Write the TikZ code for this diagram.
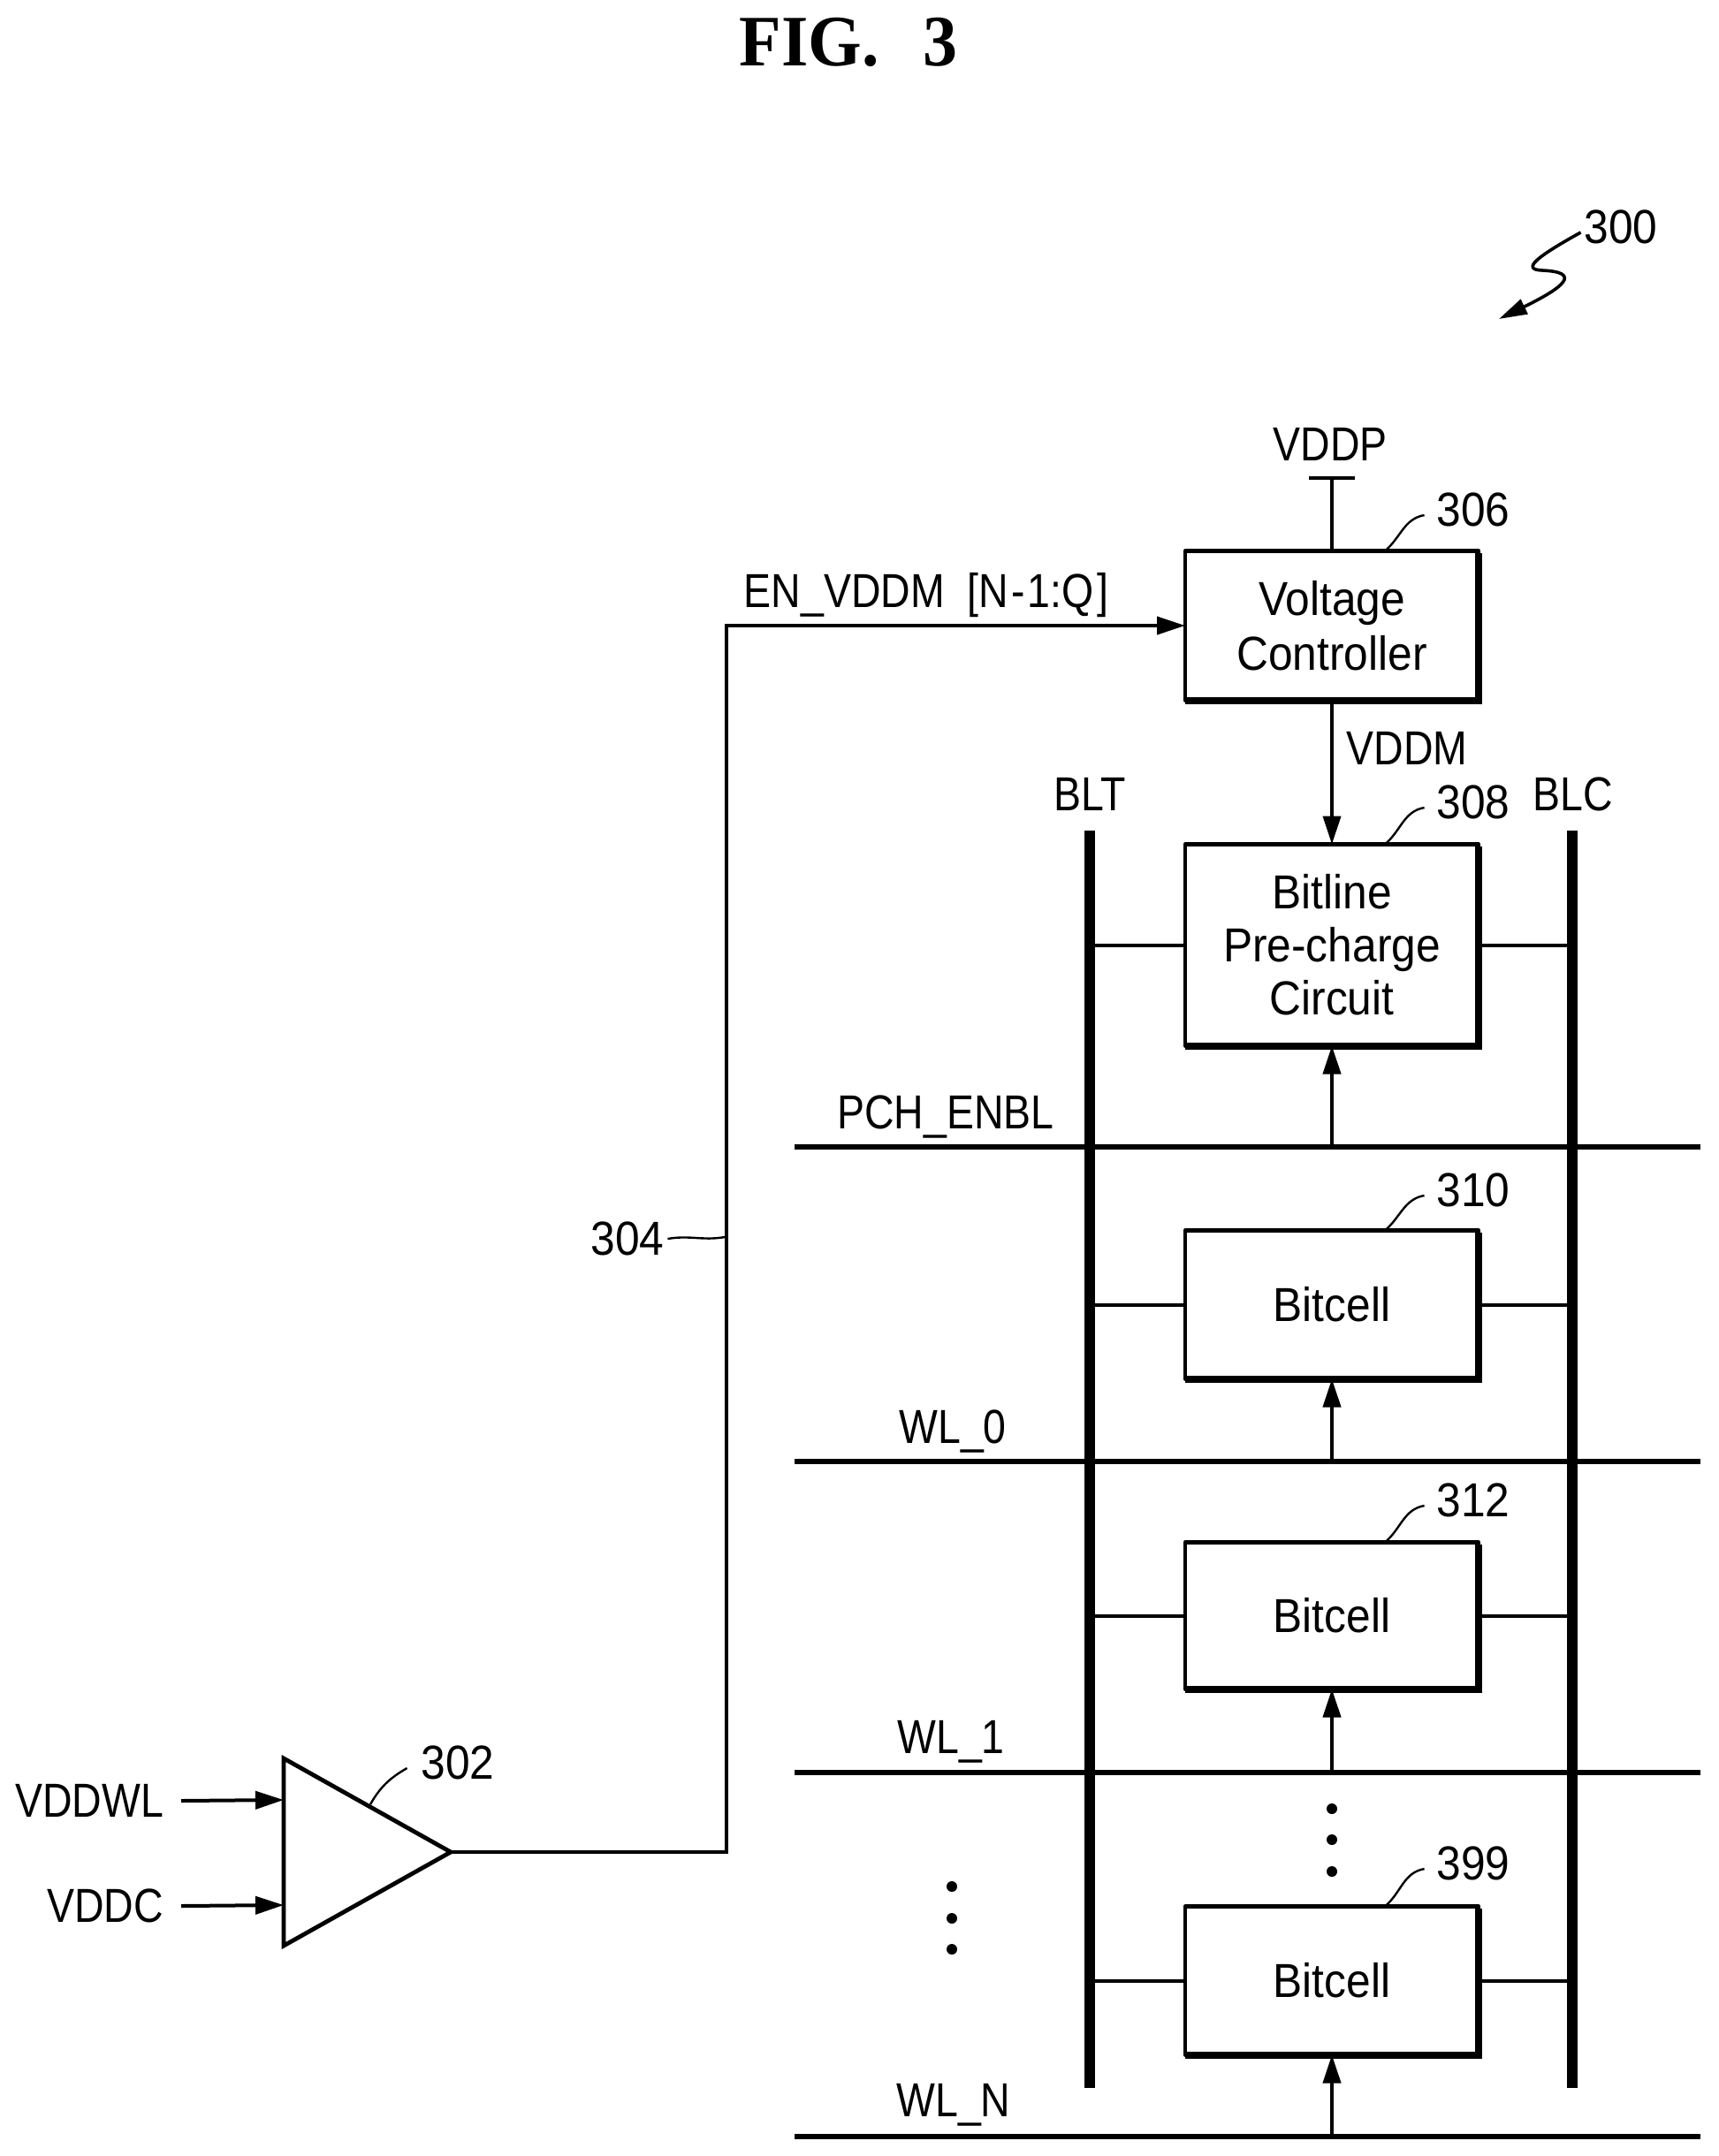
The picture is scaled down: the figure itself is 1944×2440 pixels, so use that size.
\documentclass[tikz,border=0pt]{standalone}
\usepackage{fontspec}
\setmainfont[FakeStretch=0.86]{Liberation Sans}
\newfontfamily\widefont[FakeStretch=0.92]{Liberation Sans}
\newfontfamily\figfont[FakeStretch=0.95]{Liberation Serif}
\usetikzlibrary{positioning,arrows.meta}
\newcommand{\labelfont}{\fontsize{27}{30}\selectfont}
\tikzset{
  cell/.style={draw, minimum width=166pt, align=center, line width=2.2pt,
    outer sep=0pt, inner sep=0pt, line join=round, font=\labelfont\widefont},
  heavy/.style={line width=4pt, line join=miter},
  txt/.style={inner sep=0pt, outer sep=0pt, align=center},
  num/.style={txt, font=\labelfont\widefont},
  wire/.style={line width=2pt},
  rail/.style={line width=6pt},
  word/.style={line width=2.6pt},
  tip/.style={-{Stealth[inset=0pt,length=16pt,width=10pt]}},
  leader/.style={line width=1.2pt},
  dot/.style={circle, fill, inner sep=0pt, minimum size=6pt}
}

\begin{document}
\begin{tikzpicture}[x=0.5pt, y=-0.5pt, font=\labelfont]

    \useasboundingbox (0,0) rectangle (1944,2440);

    % ============= TITLE ==================
    \node[txt] (fig) at (960,48) {\fontsize{41}{44}\selectfont\figfont\bfseries FIG.\hspace{25pt}3};

    % ============= CELLS (COLUMN) ==================

    % -------------------------------
    \node[cell, minimum height=84.5pt] (vc) at (1507,708) {Voltage\\[1pt]Controller};
    \node[cell, minimum height=114pt, below=81.5pt of vc] (pc) {Bitline\\Pre-charge\\Circuit};
    \node[cell, minimum height=84pt, below=104.5pt of pc] (bc0) {Bitcell};
    \node[cell, minimum height=83pt, below=92.5pt of bc0] (bc1) {Bitcell};
    \node[cell, minimum height=84pt, below=123pt of bc1] (bcn) {Bitcell};
    % -------------------------------

    \foreach \b in {vc,pc,bc0,bc1,bcn}
      \draw[heavy] ([yshift=-1pt]\b.north east) -- (\b.south east) -- (\b.south west);

    % ============= NUMBERS ==================
    \node[num] (n300) at (1834,257) {300};
    \node[num] (n302) at (518,1995) {302};
    \node[num] (n304) at (710,1402) {304};
    \node[num] (n306) at (1667,577) {306};
    \node[num] (n308) at (1667,908) {308};
    \node[num] (n310) at (1667,1347) {310};
    \node[num] (n312) at (1667,1698) {312};
    \node[num] (n399) at (1667,2109) {399};

    \foreach \n/\b in {n306/vc,n308/pc,n310/bc0,n312/bc1,n399/bcn}
      \draw[leader] ([xshift=-7pt,yshift=-3pt]\n.west) to[out=190,in=40] ([xshift=30pt]\b.north);

    % ============= AMPLIFIER ==================
    \coordinate (ampa) at (321,1990);
    \coordinate (ampb) at (321,2202);
    \coordinate (ampc) at (510,2096);
    \draw[wire, line width=2.4pt, line join=miter] (ampa) -- (ampc) -- (ampb) -- cycle;
    \coordinate (ampi) at (321,2037);
    \coordinate (ampj) at (321,2156);
    \coordinate (ampt) at (419,2042);
    \draw[leader] ([xshift=-8pt,yshift=-3pt]n302.west) to[out=210,in=60] (ampt);

    \node[txt, anchor=east] (vddwl) at (185,2038) {VDDWL};
    \node[txt, anchor=east] (vddc) at (185,2157) {VDDC};
    \draw[wire, tip] ([xshift=10pt]vddwl.east) -- (ampi);
    \draw[wire, tip] ([xshift=10pt]vddc.east) -- (ampj);

    % ============= ENABLE LINE ==================
    \coordinate (bend) at (822,708);
    \draw[wire, tip] (ampc) -| (bend) -- (vc.west);
    \node[txt] (envddm) at (1048,674) {EN\_VDDM\ \ [N\kern1.5pt-\kern1.5pt1:Q\kern2pt]};
    \coordinate (encall) at (820,1400);
    \draw[leader] ([xshift=2pt]n304.east) to[out=10,in=190] (encall);

    % ============= SUPPLY ==================
    \node[txt] (vddp) at (1505,503) {VDDP};
    \coordinate (vbar) at (1507,541);
    \draw[wire] (vbar) -- (vc.north);
    \draw[wire] ([xshift=-13pt]vbar) -- ([xshift=13pt]vbar);
    \draw[wire, tip] (vc.south) -- (pc.north);
    \node[txt] (vddm) at (1592,847) {VDDM};

    % ============= BITLINES ==================
    \coordinate (bltt) at (1233,940);
    \coordinate (bltb) at (1233,2363);
    \coordinate (blct) at (1779,940);
    \coordinate (blcb) at (1779,2363);
    \draw[rail] (bltt) -- (bltb);
    \draw[rail] (blct) -- (blcb);
    \node[txt] (blt) at (1233,899) {BLT};
    \node[txt] (blc) at (1780,899) {BLC};

    \foreach \b in {pc,bc0,bc1,bcn}
      \draw[wire] (\b.west -| bltt) -- (\b.west)
                  (\b.east) -- (\b.east -| blct);

    % ============= WORDLINES ==================
    \foreach \w/\y in {pch/1298, w0/1654, w1/2006, wn/2418} {
      \coordinate (\w l) at (899,\y);
      \coordinate (\w r) at (1924,\y);
      \draw[word] (\w l) -- (\w r);
    }
    \node[txt] (lpch) at (1070,1264) {PCH\_ENBL};
    \node[txt] (lw0) at (1078,1620) {WL\_0};
    \node[txt] (lw1) at (1076,1971) {WL\_1};
    \node[txt] (lwn) at (1079,2382) {WL\_N};

    \draw[wire, tip] (pc.south |- pchl) -- (pc.south);
    \draw[wire, tip] (bc0.south |- w0l) -- (bc0.south);
    \draw[wire, tip] (bc1.south |- w1l) -- (bc1.south);
    \draw[wire, tip] (bcn.south |- wnl) -- (bcn.south);

    % ============= DOTS ==================
    \foreach \y [count=\i] in {2047,2082,2118}
      \node[dot] (ra\i) at (1507,\y) {};
    \foreach \y [count=\i] in {2135,2171,2206}
      \node[dot] (la\i) at (1077,\y) {};

    % ============= 300 ARROW ==================
    \coordinate (sqa) at (1696,361);
    \draw[leader, line width=1.8pt, -{Stealth[inset=0pt,length=16pt,width=9pt]}]
        ([xshift=-2pt,yshift=-3pt]n300.west) .. controls (1740,290) and (1720,305) .. (1745,306)
        .. controls (1790,308) and (1770,325) .. (sqa);

\end{tikzpicture}
\end{document}
